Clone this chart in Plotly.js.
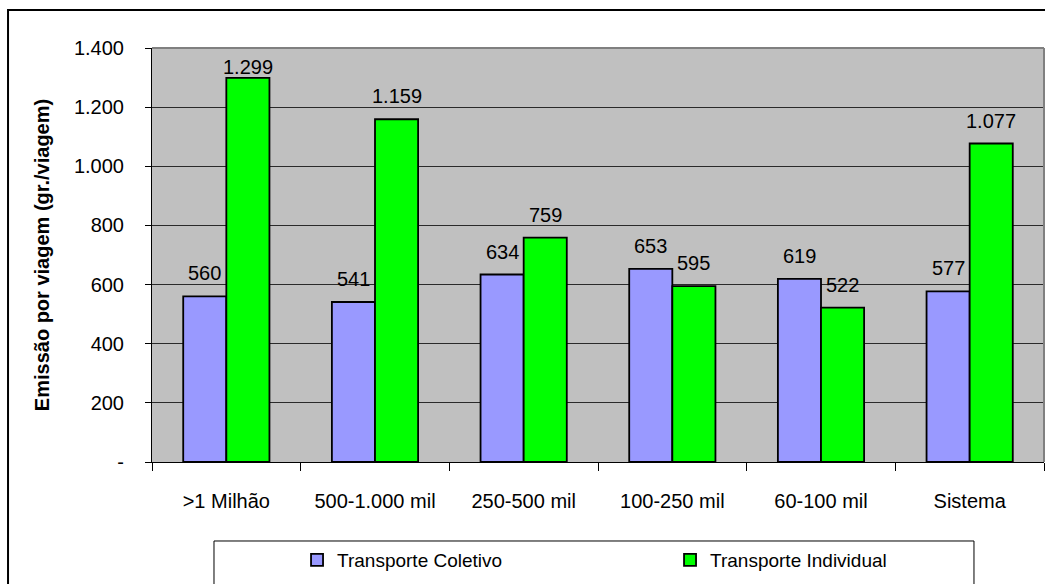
<!DOCTYPE html>
<html>
<head>
<meta charset="utf-8">
<script src="https://cdn.plot.ly/plotly-3.0.1.min.js"></script>
<style>
html,body{margin:0;padding:0;background:#fff;}
#chart{width:1045px;height:584px;}
</style>
</head>
<body>
<div id="chart"></div>
<script>
const categories = ['>1 Milhão', '500-1.000 mil', '250-500 mil', '100-250 mil', '60-100 mil', 'Sistema'];
const coletivo = [560, 541, 634, 653, 619, 577];
const individual = [1299, 1159, 759, 595, 522, 1077];
const seriesNames = ['Transporte Coletivo', 'Transporte Individual'];
const yTickVals = [0, 200, 400, 600, 800, 1000, 1200, 1400];
const yTickText = ['-', '200', '400', '600', '800', '1.000', '1.200', '1.400'];
const yTitle = 'Emissão por viagem (gr./viagem)';

const FONT = 'Arial, "Liberation Sans", sans-serif';
const Y_MAX = 1400;
const PLOT_H = 584 - 48 - 122;
const BARGAP = 0.42;
const LABEL_FONT = 20;

function fmt(v) {
  return String(v).replace(/\B(?=(\d{3})+(?!\d))/g, '.');
}

const traces = [
  {
    type: 'bar', name: seriesNames[0], x: categories, y: coletivo,
    marker: {color: '#9999FF', line: {color: '#000000', width: 1.8}}
  },
  {
    type: 'bar', name: seriesNames[1], x: categories, y: individual,
    marker: {color: '#00FF00', line: {color: '#000000', width: 1.8}}
  }
];

// data labels above each bar (Excel-style: lifted above the bar, kept inside the plot area)
const annotations = [];
[coletivo, individual].forEach(function (vals, s) {
  const off = (s === 0 ? -1 : 1) * (1 - BARGAP) / 4;
  vals.forEach(function (v, i) {
    const roomPx = (Y_MAX - v) / Y_MAX * PLOT_H - LABEL_FONT * 1.2;
    annotations.push({
      x: i + off, y: v, xref: 'x', yref: 'y',
      text: fmt(v), showarrow: false, yanchor: 'bottom', xanchor: 'center',
      yshift: roomPx >= 10 ? 10 : -2,
      font: {family: FONT, size: LABEL_FONT, color: '#000000'}
    });
  });
});

const layout = {
  width: 1045, height: 584,
  margin: {l: 152, r: 1, t: 48, b: 122, pad: 0},
  paper_bgcolor: '#FFFFFF',
  plot_bgcolor: '#C0C0C0',
  separators: ',.',
  barmode: 'group',
  bargap: BARGAP,
  bargroupgap: 0,
  font: {family: FONT, size: 20, color: '#000000'},
  showlegend: true,
  legend: {
    orientation: 'h', x: 0.1626, xanchor: 'left', y: -0.2367, yanchor: 'middle',
    bgcolor: 'rgba(0,0,0,0)', borderwidth: 0,
    font: {family: FONT, size: 19, color: '#000000'},
    entrywidth: 328, entrywidthmode: 'pixels', traceorder: 'normal'
  },
  xaxis: {
    type: 'category', tickson: 'boundaries', ticks: 'outside', ticklen: 8,
    tickcolor: '#000000', tickwidth: 1, showgrid: false, zeroline: false,
    showline: true, linecolor: '#000000', linewidth: 1,
    tickfont: {family: FONT, size: 20, color: '#000000'},
    ticklabelstandoff: 21
  },
  yaxis: {
    range: [0, Y_MAX], tickmode: 'array', tickvals: yTickVals, ticktext: yTickText,
    ticks: 'outside', ticklen: 6, tickcolor: '#000000', tickwidth: 1,
    showgrid: true, gridcolor: '#2a2a2a', gridwidth: 1, zeroline: false,
    showline: true, linecolor: '#000000', linewidth: 1,
    tickfont: {family: FONT, size: 20, color: '#000000'},
    ticklabelstandoff: 17,
    title: {text: yTitle, font: {family: FONT, size: 20, color: '#000000', weight: 'bold'}, standoff: 18},
    automargin: false
  },
  annotations: annotations,
  shapes: [
    {type: 'line', xref: 'paper', yref: 'paper', x0: 0, x1: 1, y0: 1, y1: 1, line: {color: '#808080', width: 2}},
    {type: 'line', xref: 'paper', yref: 'paper', x0: 1, x1: 1, y0: 0, y1: 1, line: {color: '#808080', width: 2}},
    {type: 'rect', xref: 'paper', yref: 'paper', x0: -0.1614, x1: 1.05, y0: -0.5, y1: 1.0918, line: {color: '#000000', width: 2}},
    {type: 'rect', xref: 'paper', yref: 'paper', x0: 0.0695, x1: 0.9215, y0: -0.5, y1: -0.1908, line: {color: '#000000', width: 1}}
  ]
};

Plotly.newPlot('chart', traces, layout, {displayModeBar: false, staticPlot: true});
</script>
</body>
</html>
